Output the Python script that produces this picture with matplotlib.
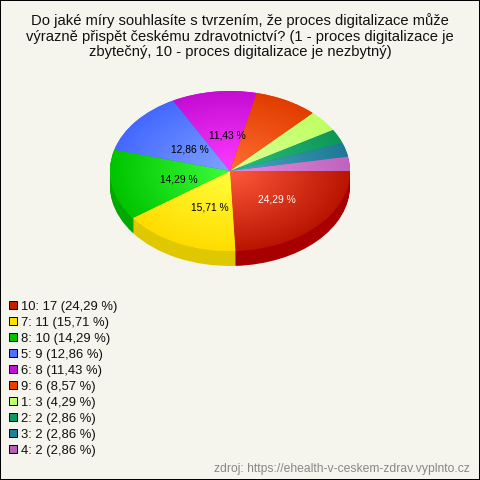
import numpy as np
import matplotlib
matplotlib.use("Agg")
import matplotlib.pyplot as plt
from matplotlib.colors import LinearSegmentedColormap
from matplotlib.patches import Patch

plt.rcParams['font.family'] = ['Liberation Sans', 'DejaVu Sans']

title = ("Do jaké míry souhlasíte s tvrzením, že proces digitalizace může\n"
         "výrazně přispět českému zdravotnictví? (1 - proces digitalizace je\n"
         "zbytečný, 10 - proces digitalizace je nezbytný)")
source = "zdroj: https://ehealth-v-ceskem-zdrav.vyplnto.cz"
categories = ["10", "7", "8", "5", "6", "9", "1", "2", "3", "4"]
counts = [17, 11, 10, 9, 8, 6, 3, 2, 2, 2]
percents = ["24,29", "15,71", "14,29", "12,86", "11,43", "8,57", "4,29", "2,86", "2,86", "2,86"]
legend_cols = ["#C02000", "#FFE000", "#00C000", "#4C70FF", "#C010D8", "#E84000",
               "#C0FF70", "#109860", "#208098", "#B860B8"]
inner_cols = ["#FF5A3C", "#FFFF3C", "#3CFF3C", "#80A4FF", "#FF3CFF", "#FF6E32",
              "#DCFF96", "#28C07C", "#46AAC0", "#E68CDC"]
outer_cols = ["#B81400", "#FFDC00", "#00C400", "#4468FF", "#C40CD4", "#E23C00",
              "#BEFF64", "#0F9658", "#1E7896", "#BE64BE"]
side_cols = ["#A80000", "#E0C800", "#00A800", "#3050C0", "#900AA0", "#B03000",
             "#90C050", "#0C7040", "#185C70", "#904890"]

BG = "#F5F5ED"
W, H = 480, 480
CX, CY, RX, RY, DEPTH = 230, 171, 120, 80, 15

fig = plt.figure(figsize=(W / 100, H / 100), dpi=100, facecolor=BG)
fig.patch.set_edgecolor("black")
fig.patch.set_linewidth(1.44)
ax = fig.add_axes([0, 0, 1, 1])
ax.patch.set_alpha(0)

limits = dict(xlim=((0 - CX) / RX, (W - CX) / RX), ylim=((CY - H) / RY, CY / RY))

# extruded side of the pie: dark copies stacked downward
for d in np.arange(DEPTH, 0, -1.0):
    ax.pie(counts, colors=side_cols, startangle=0, counterclock=False,
           center=(0, -d / RY), wedgeprops=dict(linewidth=0.6, edgecolor="none"))

# top face
wedges, _ = ax.pie(counts, colors=outer_cols, startangle=0, counterclock=False,
                   center=(0, 0), wedgeprops=dict(linewidth=0))

gx, gy = np.meshgrid(np.linspace(-1.02, 1.02, 400), np.linspace(-1.02, 1.02, 400))
rad = np.clip(np.hypot(gx, gy), 0, 1)
for w, c0, c1 in zip(wedges, inner_cols, outer_cols):
    cmap = LinearSegmentedColormap.from_list("g", [c0, c1])
    im = ax.imshow(rad, cmap=cmap, vmin=0, vmax=1, extent=(-1.02, 1.02, -1.02, 1.02),
                   origin="lower", aspect="auto", interpolation="bilinear", zorder=3)
    im.set_clip_path(w)

ax.set_aspect("auto")
ax.set(**limits)
ax.axis("off")

# percentage labels on the big slices
total = sum(counts)
cum = 0
for i, (n, p) in enumerate(zip(counts, percents)):
    mid = (cum + n / 2) / total * 2 * np.pi
    cum += n
    if n / total > 0.1:
        ax.annotate(f"{p} %", xy=(0.48 * np.cos(mid), -0.48 * np.sin(mid)),
                    xytext=(3.6, -1.5), textcoords="offset points", ha="center", va="center",
                    fontsize=7.4, color="white" if i == 0 else "black", zorder=5)

fig.text(0.5, 1 - 13.5 / H, title, ha="center", va="top", fontsize=10.6,
         linespacing=1.13, color="#111111")

handles = [Patch(facecolor=c, edgecolor="black", linewidth=0.7) for c in legend_cols]
labels = [f"{k}: {n} ({p} %)" for k, n, p in zip(categories, counts, percents)]
fig.legend(handles, labels, loc="upper left", bbox_to_anchor=(9 / W, 1 - 301 / H),
           borderaxespad=0, borderpad=0, frameon=False, fontsize=9.4,
           handlelength=0.575, handleheight=0.575, handletextpad=0.306, labelspacing=0.303,
           labelcolor="#111111")

fig.text(1 - 10 / W, 1 - 469 / H, source, ha="right", va="center", fontsize=8.75, color="#888888")

fig.savefig("out.png", dpi=100, facecolor=BG, edgecolor="black")
